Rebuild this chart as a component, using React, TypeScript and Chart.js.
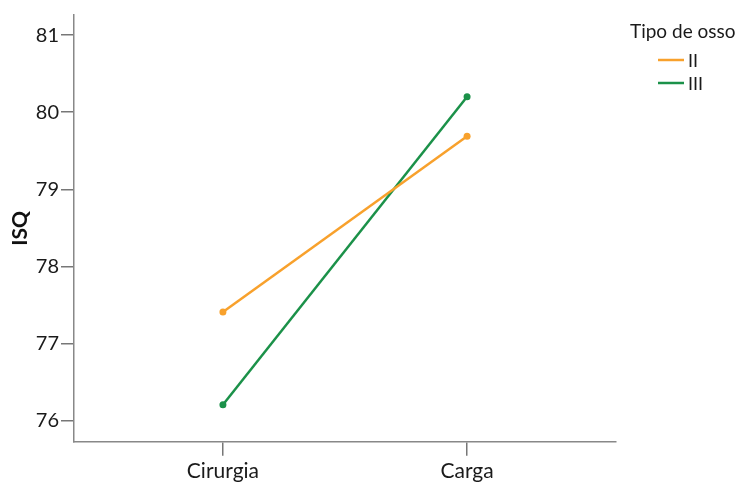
import React, { useEffect, useRef } from "react";
import { Chart, registerables } from "chart.js";

Chart.register(...registerables);

const categories = ["Cirurgia", "Carga"];
const seriesNames = ["II", "III"];
const seriesII = [77.41, 79.69];
const seriesIII = [76.21, 80.2];
const seriesColors = ["#F8A12C", "#1B9149"];
const yTicks = [76, 77, 78, 79, 80, 81];
const legendTitle = "Tipo de osso";
const yTitle = "ISQ";

const FONT = "Lato, 'DejaVu Sans', sans-serif";

const legendPlugin = {
  id: "customLegend",
  afterDraw(chart: any) {
    const ctx = chart.ctx;
    const x0 = chart.chartArea.right + 14;
    ctx.save();
    ctx.fillStyle = "#1a1a1a";
    ctx.font = `19px ${FONT}`;
    ctx.textBaseline = "middle";
    ctx.textAlign = "left";
    ctx.fillText(legendTitle, x0, 32);
    ctx.font = `18px ${FONT}`;
    chart.data.datasets.forEach((ds: any, i: number) => {
      const y = 60 + i * 23;
      ctx.strokeStyle = ds.borderColor;
      ctx.lineWidth = 2.5;
      ctx.beginPath();
      ctx.moveTo(x0 + 28, y);
      ctx.lineTo(x0 + 54, y);
      ctx.stroke();
      ctx.fillStyle = "#1a1a1a";
      ctx.fillText(ds.label, x0 + 58, y + 1);
    });
    ctx.restore();
  },
};

export default function App() {
  const ref = useRef<HTMLCanvasElement>(null);
  useEffect(() => {
    if (!ref.current) return;
    const allSeries = [seriesII, seriesIII];
    const chart = new Chart(ref.current, {
      type: "line",
      data: {
        datasets: allSeries.map((s, i) => ({
          label: seriesNames[i],
          data: s.map((v, j) => ({ x: j, y: v })),
          borderColor: seriesColors[i],
          backgroundColor: seriesColors[i],
          borderWidth: 2.5,
          pointRadius: 3.5,
          pointBorderWidth: 0,
          tension: 0,
        })),
      },
      options: {
        animation: false,
        responsive: false,
        maintainAspectRatio: false,
        layout: { padding: { top: 15, right: 121, left: 0, bottom: 0 } },
        plugins: { legend: { display: false }, tooltip: { enabled: false } },
        scales: {
          x: {
            type: "linear",
            min: -0.61,
            max: 1.61,
            afterBuildTicks: (scale: any) => {
              scale.ticks = categories.map((_, i) => ({ value: i }));
            },
            afterFit: (scale: any) => {
              scale.height = 41.3;
            },
            ticks: {
              includeBounds: false,
              callback: (v: any) => categories[v as number] ?? "",
              color: "#1a1a1a",
              font: { family: FONT, size: 21 },
              padding: 3,
              maxRotation: 0,
            },
            grid: {
              display: true,
              drawOnChartArea: false,
              drawTicks: true,
              tickLength: 14,
              color: "#777",
              lineWidth: 1.5,
            },
            border: { display: true, color: "#888", width: 1.5 },
          },
          y: {
            type: "linear",
            min: 75.73,
            max: 81.26,
            afterBuildTicks: (scale: any) => {
              scale.ticks = yTicks.map((v) => ({ value: v }));
            },
            afterFit: (scale: any) => {
              scale.width = 74;
            },
            ticks: {
              includeBounds: false,
              color: "#1a1a1a",
              font: { family: FONT, size: 20 },
              padding: 2,
            },
            grid: {
              display: true,
              drawOnChartArea: false,
              drawTicks: true,
              tickLength: 13,
              color: "#777",
              lineWidth: 1.5,
            },
            border: { display: true, color: "#888", width: 1.5 },
            title: {
              display: true,
              text: yTitle,
              color: "#111",
              font: { family: FONT, size: 21, weight: "bold" },
              padding: { top: 8, bottom: 4 },
            },
          },
        },
      },
      plugins: [legendPlugin],
    });
    return () => chart.destroy();
  }, []);
  return (
    <div style={{ position: "absolute", left: 0, top: 0, width: 737, height: 483, background: "#fff" }}>
      <canvas ref={ref} width={737} height={483} style={{ width: 737, height: 483 }} />
    </div>
  );
}
